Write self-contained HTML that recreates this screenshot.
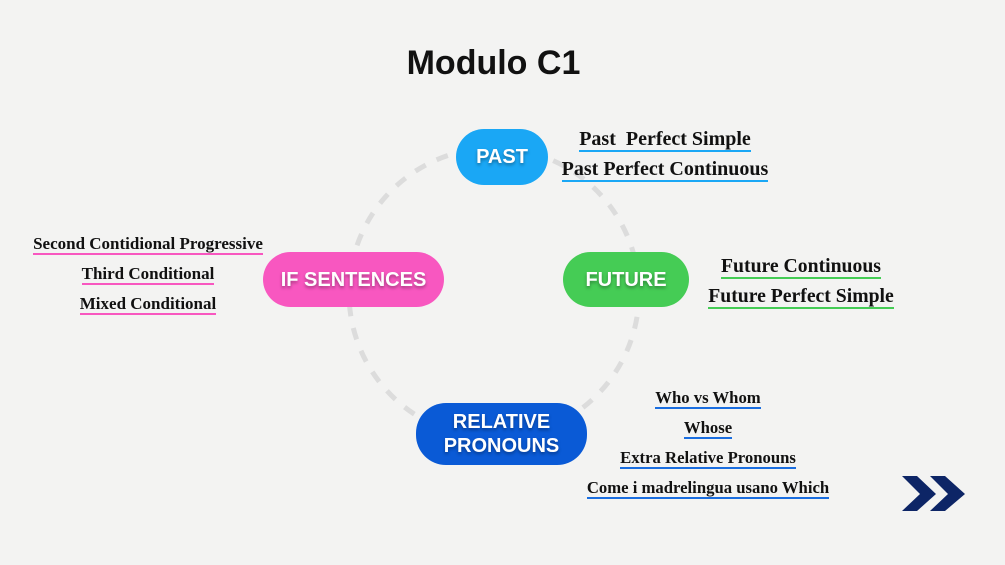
<!DOCTYPE html>
<html><head><meta charset="utf-8"><style>
*{margin:0;padding:0;box-sizing:border-box}
body{width:1005px;height:565px;overflow:hidden;background:#f3f3f2;position:relative;font-family:"Liberation Sans",sans-serif}
.t{position:absolute;left:0;top:44px;width:987px;text-align:center;font-weight:900;font-size:34px;color:#111}
.p{position:absolute;border-radius:30px;color:#fff;font-weight:bold;display:flex;align-items:center;justify-content:center;text-align:center;text-shadow:0 2px 3px rgba(0,0,0,.35);line-height:24px}
.l{position:absolute;text-align:center;font-family:"Liberation Serif",serif;font-weight:bold;color:#111;white-space:nowrap}
.l span{display:inline-block;border-bottom:2px solid;line-height:1.05}
</style></head><body>
<svg style="position:absolute;left:0;top:0" width="1005" height="565">
<circle cx="494" cy="293" r="145" fill="none" stroke="#dcdcdc" stroke-width="5" stroke-dasharray="12 12"/>
<polygon points="902,476 917,476 936,494 917,511 902,511 920,494" fill="#0d2566"/>
<polygon points="930,476 945,476 965,494 945,511 930,511 948,494" fill="#0d2566"/>
</svg>
<div class="t">Modulo C1</div>
<div class="p" style="left:456px;top:129px;width:92px;height:56px;background:#1aa7f5;font-size:20px">PAST</div>
<div class="p" style="left:263px;top:252px;width:181px;height:55px;background:#f857c0;font-size:20px">IF SENTENCES</div>
<div class="p" style="left:563px;top:252px;width:126px;height:55px;background:#45cc55;font-size:20px">FUTURE</div>
<div class="p" style="left:416px;top:403px;width:171px;height:62px;background:#0a5ad6;font-size:20px">RELATIVE<br>PRONOUNS</div>

<div class="l" style="left:555px;width:220px;top:128px;font-size:20px"><span style="border-color:#1aa7f5">Past&nbsp; Perfect Simple</span></div>
<div class="l" style="left:555px;width:220px;top:158px;font-size:20px"><span style="border-color:#1aa7f5">Past Perfect Continuous</span></div>

<div class="l" style="left:690px;width:222px;top:255px;font-size:19.7px"><span style="border-color:#45cc55">Future Continuous</span></div>
<div class="l" style="left:690px;width:222px;top:285px;font-size:19.7px"><span style="border-color:#45cc55">Future Perfect Simple</span></div>

<div class="l" style="left:18px;width:260px;top:234px;font-size:17px"><span style="border-color:#f857c0">Second Contidional Progressive</span></div>
<div class="l" style="left:18px;width:260px;top:264px;font-size:17px"><span style="border-color:#f857c0">Third Conditional</span></div>
<div class="l" style="left:18px;width:260px;top:294px;font-size:17px"><span style="border-color:#f857c0">Mixed Conditional</span></div>

<div class="l" style="left:568px;width:280px;top:388px;font-size:16.7px"><span style="border-color:#1a6ee0">Who vs Whom</span></div>
<div class="l" style="left:568px;width:280px;top:418px;font-size:16.7px"><span style="border-color:#1a6ee0">Whose</span></div>
<div class="l" style="left:568px;width:280px;top:448px;font-size:16.7px"><span style="border-color:#1a6ee0">Extra Relative Pronouns</span></div>
<div class="l" style="left:568px;width:280px;top:478px;font-size:16.7px"><span style="border-color:#1a6ee0">Come i madrelingua usano Which</span></div>
</body></html>
